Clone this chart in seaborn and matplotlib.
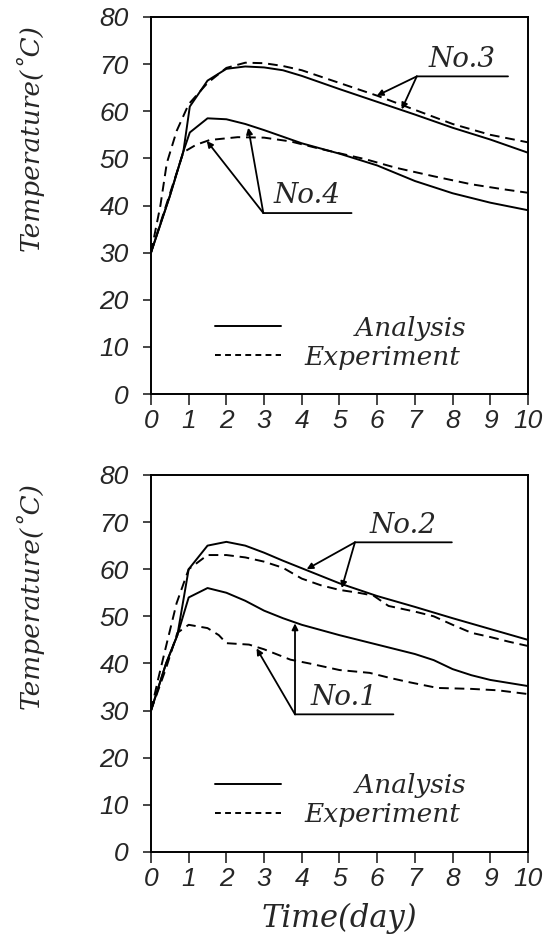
import pandas as pd
import matplotlib
matplotlib.use("Agg")
import matplotlib.pyplot as plt
from matplotlib.lines import Line2D
import seaborn as sns

sns.set_theme(style="white")
plt.rcParams["font.family"] = ["DejaVu Serif", "DejaVu Sans"]

# ── Data ─────────────────────────────────────────────────────────────
# top panel: specimens No.3 and No.4
t_an3 = [0, 0.5, 0.86, 1.03, 1.5, 2.0, 2.5, 3.0, 3.5, 4, 5, 6, 7, 8, 9, 10]
y_an3 = [30, 42, 51.5, 61, 66.5, 69, 69.5, 69.3, 68.7, 67.5, 64.7, 62, 59.3, 56.5, 54, 51.2]
t_ex3 = [0, 0.25, 0.42, 0.68, 1.0, 1.5, 2.0, 2.5, 3, 3.5, 4, 5, 6, 7, 8, 9, 10]
y_ex3 = [30, 40, 49, 55.8, 61.5, 66, 69.2, 70.3, 70.2, 69.6, 68.7, 66, 63.3, 60.3, 57.3, 55, 53.4]
t_an4 = [0, 0.5, 0.86, 1.03, 1.5, 2.0, 2.5, 3, 4, 5, 6, 7, 8, 9, 10]
y_an4 = [30, 42, 51.5, 55.5, 58.5, 58.3, 57.3, 56, 53.2, 51, 48.5, 45.2, 42.6, 40.6, 39]
t_ex4 = [0, 0.4, 0.86, 1.2, 1.56, 2.3, 3.0, 3.7, 4.5, 5.7, 6.5, 7.5, 8.5, 9.3, 10]
y_ex4 = [30, 40, 51.3, 52.9, 53.9, 54.5, 54.4, 53.6, 52, 49.8, 48, 46.2, 44.5, 43.5, 42.7]

# bottom panel: specimens No.1 and No.2
t_an2 = [0, 0.4, 0.7, 1.0, 1.5, 2.0, 2.5, 3.0, 3.5, 4.0, 5, 6, 7, 8, 9, 10]
y_an2 = [30, 40, 46, 60, 65, 65.8, 65, 63.5, 61.8, 60.2, 57, 54.3, 52, 49.6, 47.3, 45]
t_ex2 = [0, 0.2, 0.42, 0.68, 1.0, 1.5, 2.0, 2.5, 3.0, 3.5, 4.0, 4.5, 5.0, 5.5, 5.9, 6.3,
         7.0, 7.5, 8.0, 8.5, 9, 9.5, 10]
y_ex2 = [30, 37, 44.3, 52.8, 60, 63, 63, 62.5, 61.6, 60.3, 58, 56.6, 55.6, 55, 54.4, 52.2,
         51, 50, 48.2, 46.5, 45.6, 44.6, 43.7]
t_an1 = [0, 0.4, 0.7, 1.0, 1.5, 2.0, 2.5, 3.0, 3.5, 4.0, 5, 6, 7, 7.5, 8, 8.5, 9, 10]
y_an1 = [30, 40, 46, 54, 56, 55, 53.3, 51.2, 49.6, 48.2, 46, 44, 42, 40.7, 38.8, 37.5, 36.5, 35.2]
t_ex1 = [0, 0.4, 0.7, 1.0, 1.5, 1.8, 2.0, 2.6, 3.0, 3.7, 4.2, 5.0, 5.8, 6.3, 6.8, 7.6,
         8.5, 9.2, 10]
y_ex1 = [30, 39, 46.5, 48.2, 47.5, 46, 44.3, 44, 43, 40.8, 40, 38.6, 38, 37, 36.1, 34.8,
         34.6, 34.3, 33.5]

x_ticks = list(range(0, 11))
y_ticks = list(range(0, 81, 10))

DASH = (0, (5, 3))
SERIF = dict(family="DejaVu Serif", style="italic")
TICKFONT = dict(family="Liberation Sans", style="italic", size=19)


def frame(series):
    rows = []
    for name, kind, t, y in series:
        rows += [dict(spec=name, kind=kind, time=a, temp=b) for a, b in zip(t, y)]
    return pd.DataFrame(rows)


def label(ax, text, corner, end_x, targets):
    # underline + arrows pointing to the curves
    ax.annotate("", xy=(end_x, corner[1]), xytext=corner,
                arrowprops=dict(arrowstyle="-", lw=1.3, color="black",
                                shrinkA=0, shrinkB=0))
    for tx, ty in targets:
        ax.annotate("", xy=(tx, ty), xytext=corner,
                    arrowprops=dict(arrowstyle="-|>", lw=1.3, color="black",
                                    mutation_scale=9, shrinkA=0, shrinkB=0))
    ax.text((corner[0] + end_x) / 2, corner[1] + 0.8, text, ha="center",
            va="bottom", fontsize=20, **SERIF)


def panel(ax, df):
    for (spec, kind), g in df.groupby(["spec", "kind"], sort=False):
        ls = "-" if kind == "Analysis" else DASH
        sns.lineplot(data=g, x="time", y="temp", ax=ax, color="black", lw=1.4,
                     linestyle=ls, estimator=None, sort=False)
    ax.set_xlim(0, 10)
    ax.set_ylim(0, 80)
    ax.set_xticks(x_ticks)
    ax.set_yticks(y_ticks)
    ax.set_xticklabels([str(v) for v in x_ticks], **TICKFONT)
    ax.set_yticklabels([str(v) for v in y_ticks], **TICKFONT)
    ax.tick_params(axis="y", direction="out", length=6, width=1.2, left=True, right=False, pad=10)
    ax.tick_params(axis="x", direction="out", length=8, width=1.2, bottom=True, top=False, pad=3)
    for s in ax.spines.values():
        s.set_linewidth(1.4)
        s.set_color("black")
    ax.set_xlabel("")
    ax.set_ylabel("Temperature(˚C)", fontsize=19, **SERIF)
    ax.yaxis.set_label_coords(-0.285, 0.68)
    handles = [Line2D([], [], color="black", lw=1.4),
               Line2D([], [], color="black", lw=1.4, linestyle=(0, (3, 2.2)))]
    ax.legend(handles, ["      Analysis", "Experiment"], loc="lower left",
              bbox_to_anchor=(0.17, 0.065), frameon=False, handlelength=2.5,
              handletextpad=0.9, borderpad=0, borderaxespad=0, labelspacing=0.15,
              prop=dict(family="DejaVu Serif", style="italic", size=19))


top_df = frame([("No.3", "Analysis", t_an3, y_an3), ("No.3", "Experiment", t_ex3, y_ex3),
                ("No.4", "Analysis", t_an4, y_an4), ("No.4", "Experiment", t_ex4, y_ex4)])
bot_df = frame([("No.2", "Analysis", t_an2, y_an2), ("No.2", "Experiment", t_ex2, y_ex2),
                ("No.1", "Analysis", t_an1, y_an1), ("No.1", "Experiment", t_ex1, y_ex1)])

fig = plt.figure(figsize=(5.5, 9.44), dpi=100)
ax1 = fig.add_axes([0.2745, 0.5826, 0.6855, 0.3994])
ax2 = fig.add_axes([0.2745, 0.0975, 0.6855, 0.3994])

panel(ax1, top_df)
panel(ax2, bot_df)

label(ax1, "No.3", (7.05, 67.4), 9.47, [(5.99, 63.3), (6.65, 60.4)])
label(ax1, "No.4", (2.98, 38.4), 5.32, [(1.48, 53.7), (2.58, 56.5)])
label(ax2, "No.2", (5.41, 65.7), 7.98, [(4.13, 60.0), (5.06, 56.0)])
label(ax2, "No.1", (3.82, 29.2), 6.43, [(3.82, 48.5), (2.8, 43.2)])

ax2.set_xlabel("Time(day)", fontsize=22, labelpad=8, **SERIF)

fig.savefig("out.png", dpi=100)
